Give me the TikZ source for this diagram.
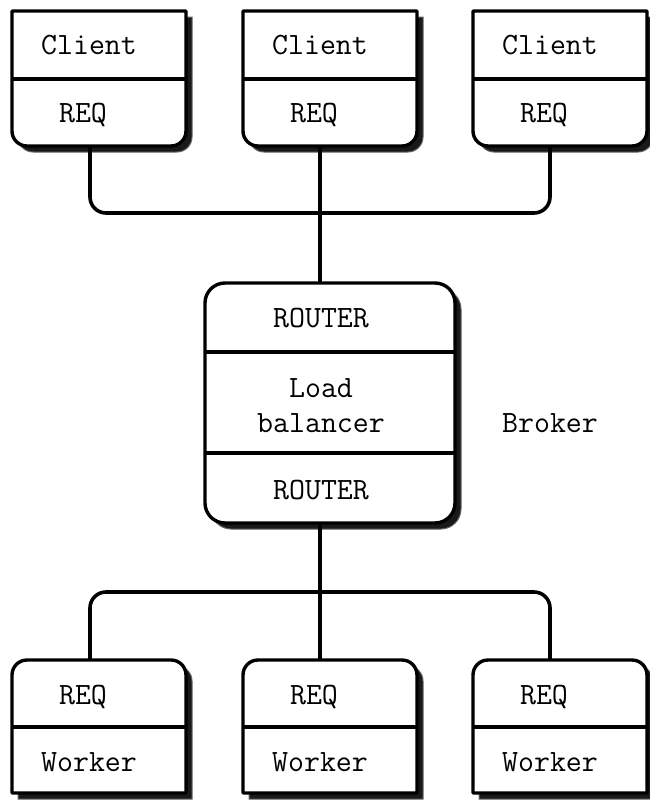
\documentclass[tikz,border=0pt]{standalone}
\begin{document}
\begin{tikzpicture}[x=1pt,y=-1pt,
  boxline/.style={line width=3.4pt,line join=round,fill=white},
  shadowfill/.style={fill=black!90,draw=black!60,line width=1pt},
  divline/.style={line width=3.4pt},
  conn/.style={line width=3.6pt,rounded corners=16pt},
  lbl/.style={font=\fontsize{31}{35}\selectfont\ttfamily,inner sep=0pt,anchor=base}]
\useasboundingbox (0,0) rectangle (650,803);
% client boxes
\foreach \x/\n/\c in {12/1/90,243/2/320,473/3/550}{
  \fill[shadowfill,shift={(6,6)}] (\x,11) -- (\x+174,11) -- (\x+174,131) arc[start angle=0,end angle=90,radius=15] -- (\x+15,146) arc[start angle=90,end angle=180,radius=15] -- cycle;
  \draw[boxline] (\x,11) -- (\x+174,11) -- (\x+174,131) arc[start angle=0,end angle=90,radius=15] -- (\x+15,146) arc[start angle=90,end angle=180,radius=15] -- cycle;
  \draw[divline] (\x,79) -- (\x+174,79);
  \node[lbl] (client\n) at (\x+77,54) {Client};
  \node[lbl] (creq\n) at (\x+71,122) {REQ};
  \coordinate (cb\n) at (\c,146);
}
% worker boxes
\foreach \x/\n/\c in {12/1/90,243/2/320,473/3/550}{
  \fill[shadowfill,shift={(6,6)}] (\x,793) -- (\x,675) arc[start angle=180,end angle=270,radius=15] -- (\x+159,660) arc[start angle=270,end angle=360,radius=15] -- (\x+174,793) -- cycle;
  \draw[boxline] (\x,793) -- (\x,675) arc[start angle=180,end angle=270,radius=15] -- (\x+159,660) arc[start angle=270,end angle=360,radius=15] -- (\x+174,793) -- cycle;
  \draw[divline] (\x,727) -- (\x+174,727);
  \node[lbl] (wreq\n) at (\x+71,704) {REQ};
  \node[lbl] (worker\n) at (\x+77,771) {Worker};
  \coordinate (wt\n) at (\c,660);
}
% broker
\fill[shadowfill,shift={(6,6)},rounded corners=20] (205,283) rectangle (455,523);
\draw[boxline,rounded corners=20] (205,283) rectangle (455,523);
\draw[divline] (205,352) -- (455,352);
\draw[divline] (205,453) -- (455,453);
\node[lbl] (rtop) at (321,327) {ROUTER};
\node[lbl] (lb1) at (321,397) {Load};
\node[lbl] (lb2) at (321,432) {balancer};
\node[lbl] (rbot) at (321,499) {ROUTER};
\node[lbl] (brokerlbl) at (550,432) {Broker};
\coordinate (bt) at (320,283);
\coordinate (bb) at (320,523);
\coordinate (j1) at (320,213);
\coordinate (j2) at (320,592);
% connectors
\draw[conn] (cb1) |- (j1) -| (cb3);
\draw[conn] (cb2) -- (bt);
\draw[conn] (wt1) |- (j2) -| (wt3);
\draw[conn] (bb) -- (wt2);
\end{tikzpicture}
\end{document}
